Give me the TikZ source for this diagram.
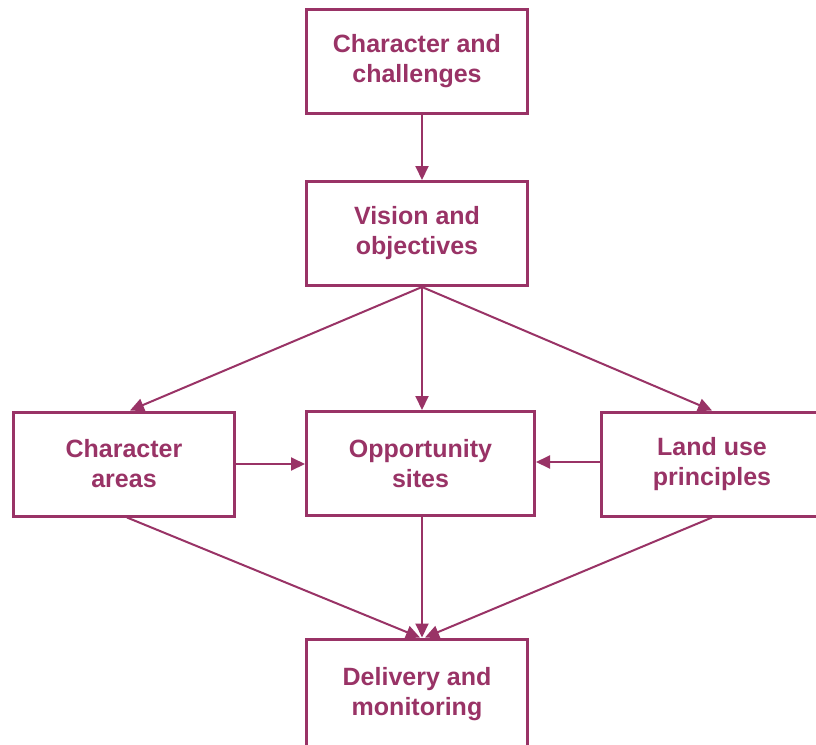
\documentclass[tikz,border=0pt]{standalone}
\usepackage{fontspec}
\setmainfont{Liberation Sans}
\usetikzlibrary{arrows.meta}
\definecolor{plum}{RGB}{153,51,102}
\begin{document}
\begin{tikzpicture}[x=1pt,y=1pt,
  box/.style={draw=plum, line width=3pt, minimum width=221pt, minimum height=104pt,
    inner sep=0pt, align=center, text=plum, font=\bfseries\fontsize{25}{30}\selectfont},
  conn/.style={draw=plum, line width=2pt, -{Triangle[length=14pt,width=13pt]}}]
\clip (0,0) rectangle (816,-744);
\fill[white] (0,0) rectangle (816,-744);
\node[box] (top) at (417,-61.5) {Character and\\challenges};
\node[box] (vision) at (417,-233.5) {Vision and\\objectives};
\node[box] (char) at (124,-464) {Character\\areas};
\node[box, minimum width=228pt] (opp) at (420.5,-463.5) {Opportunity\\sites};
\node[box] (land) at (712,-464) {Land use\\principles};
\node[box, minimum height=110pt] (deliv) at (417,-694) {Delivery and\\monitoring};
\draw[conn] ([xshift=5pt]top.south) -- ([xshift=5pt]vision.north);
\draw[conn] ([xshift=5pt]vision.south) -- ([xshift=6pt]char.north);
\draw[conn] ([xshift=5pt]vision.south) -- ([xshift=1.5pt]opp.north);
\draw[conn] ([xshift=5pt]vision.south) -- (land.north);
\draw[conn] (char.east) -- (char.east -| opp.west);
\draw[conn] ([yshift=2pt]land.west) -- ([yshift=2pt]land.west -| opp.east);
\draw[conn] ([xshift=3pt]char.south) -- ([xshift=3pt]deliv.north);
\draw[conn] ([xshift=1.5pt]opp.south) -- ([xshift=5pt]deliv.north);
\draw[conn] (land.south) -- ([xshift=8pt]deliv.north);
\end{tikzpicture}
\end{document}
